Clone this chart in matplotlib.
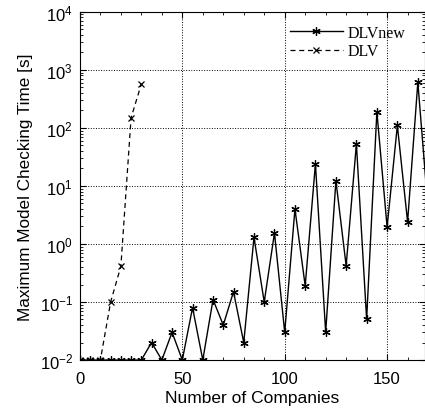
import matplotlib
matplotlib.use("Agg")
import matplotlib.pyplot as plt
from matplotlib.ticker import LogLocator, MultipleLocator, NullFormatter

# companies and checking times
companies_new = [0, 5, 10, 15, 20, 25, 30, 35, 40, 45, 50, 55, 60, 65, 70, 75, 80,
                 85, 90, 95, 100, 105, 110, 115, 120, 125, 130, 135, 140, 145, 150,
                 155, 160, 165, 170]
time_new = [0.01, 0.01, 0.01, 0.01, 0.01, 0.01, 0.01, 0.02, 0.01, 0.03, 0.01, 0.08,
            0.01, 0.11, 0.04, 0.15, 0.02, 1.3, 0.1, 1.55, 0.03, 4.0, 0.19, 24, 0.03,
            12.3, 0.42, 53, 0.05, 190, 1.95, 110, 2.4, 610, 4.0]

companies_old = [0, 5, 10, 15, 20, 25, 30]
time_old = [0.01, 0.01, 0.01, 0.1, 0.41, 150, 570]

plt.rcParams['font.family'] = ['Liberation Sans', 'DejaVu Sans']
plt.rcParams['mathtext.fontset'] = 'custom'
plt.rcParams['mathtext.rm'] = 'Liberation Sans'
plt.rcParams['mathtext.it'] = 'Liberation Sans:italic'

fig = plt.figure(figsize=(4.25, 4.14), dpi=100)
ax = fig.add_axes([0.188, 0.128, 0.812, 0.841])

asterisk = (6, 2, 0)
ax.plot(companies_new, time_new, 'k-', marker=asterisk, markersize=6,
        markeredgewidth=0.9, linewidth=1, label='DLVnew')
ax.plot(companies_old, time_old, 'k--', marker='x', markersize=5, markeredgewidth=0.9,
        linewidth=0.9, label='DLV', dashes=(4, 3))

ax.set_yscale('log')
ax.set_xlim(0, 168.5)
ax.set_ylim(1e-2, 1e4)
ax.xaxis.set_major_locator(MultipleLocator(50))
ax.xaxis.set_minor_locator(MultipleLocator(10))
ax.yaxis.set_major_locator(LogLocator(base=10, numticks=10))
ax.yaxis.set_minor_locator(LogLocator(base=10, subs=range(2, 10), numticks=20))
ax.yaxis.set_minor_formatter(NullFormatter())

ax.tick_params(which='both', direction='in', top=True, right=True, labelsize=12)
ax.tick_params(which='major', length=4)
ax.tick_params(which='minor', length=2)
ax.tick_params(axis='x', which='major', pad=8)
ax.tick_params(axis='y', which='major', pad=5)
ax.grid(True, which='major', linestyle=':', color='black', linewidth=0.7)

ax.set_xlabel('Number of Companies', fontsize=12.5, labelpad=3)
ax.set_ylabel('Maximum Model Checking Time [s]', fontsize=12.3, labelpad=5)

leg = ax.legend(loc='upper right', bbox_to_anchor=(0.975, 0.995), frameon=False,
                prop={'family': 'Liberation Serif', 'size': 11.5}, handlelength=3.3,
                handletextpad=0.3, borderpad=0.2, labelspacing=0.15)

fig.savefig('out.png', dpi=100)
